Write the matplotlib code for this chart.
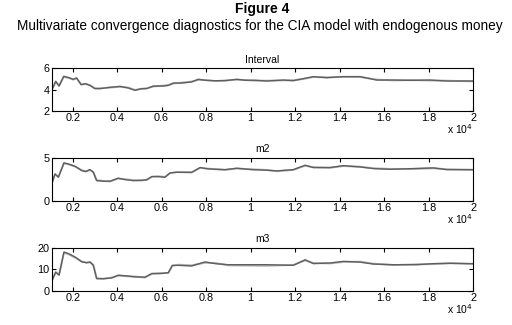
import matplotlib
matplotlib.use('Agg')
import matplotlib.pyplot as plt
import numpy as np

plt.rcParams['font.family'] = ['Liberation Sans', 'DejaVu Sans']
plt.rcParams['xtick.direction'] = 'in'
plt.rcParams['ytick.direction'] = 'in'

# iterations are in units of 10^4 on the axis
x_int = [0.106, 0.124, 0.139, 0.16, 0.184, 0.203, 0.218, 0.238, 0.259, 0.278,
         0.3, 0.323, 0.368, 0.413, 0.45, 0.48, 0.51, 0.533, 0.563, 0.608,
         0.63, 0.653, 0.69, 0.735, 0.765, 0.795, 0.84, 0.885, 0.938, 0.975,
         1.02, 1.073, 1.147, 1.192, 1.237, 1.282, 1.342, 1.417, 1.492, 1.567,
         1.642, 1.717, 1.807, 1.882, 2.0]
interval_a = [3.95, 4.78, 4.34, 5.25, 5.12, 4.97, 5.1, 4.47, 4.56, 4.4,
              4.1, 4.1, 4.22, 4.31, 4.16, 3.94, 4.1, 4.1, 4.34, 4.34,
              4.4, 4.62, 4.62, 4.72, 4.97, 4.88, 4.84, 4.84, 4.97, 4.88,
              4.88, 4.81, 4.9, 4.84, 5.03, 5.22, 5.12, 5.22, 5.22, 4.9,
              4.9, 4.87, 4.9, 4.81, 4.81]
interval_b = [3.98, 4.74, 4.38, 5.2, 5.08, 4.94, 5.06, 4.5, 4.52, 4.42,
              4.14, 4.13, 4.2, 4.27, 4.2, 3.98, 4.07, 4.14, 4.3, 4.38,
              4.44, 4.58, 4.66, 4.76, 4.92, 4.9, 4.8, 4.86, 4.93, 4.9,
              4.84, 4.84, 4.87, 4.88, 5.0, 5.18, 5.15, 5.19, 5.18, 4.94,
              4.87, 4.9, 4.86, 4.84, 4.78]

x_m2 = [0.106, 0.121, 0.136, 0.161, 0.181, 0.211, 0.241, 0.259, 0.278, 0.293,
        0.308, 0.338, 0.368, 0.405, 0.435, 0.473, 0.51, 0.533, 0.556, 0.585,
        0.615, 0.638, 0.668, 0.735, 0.773, 0.81, 0.885, 0.938, 1.005, 1.073,
        1.118, 1.192, 1.245, 1.282, 1.357, 1.417, 1.492, 1.552, 1.627, 1.732,
        1.822, 1.882, 2.0]
m2_a = [1.98, 3.14, 2.75, 4.42, 4.3, 4.03, 3.53, 3.41, 3.64, 3.33,
        2.36, 2.29, 2.29, 2.64, 2.48, 2.36, 2.4, 2.44, 2.83, 2.83,
        2.75, 3.26, 3.33, 3.33, 3.88, 3.72, 3.64, 3.8, 3.64, 3.57,
        3.49, 3.64, 4.15, 3.88, 3.88, 4.1, 3.95, 3.76, 3.68, 3.76,
        3.84, 3.64, 3.64]
m2_b = [2.02, 3.1, 2.8, 4.38, 4.26, 4.0, 3.56, 3.45, 3.6, 3.36,
        2.4, 2.32, 2.26, 2.6, 2.52, 2.4, 2.37, 2.48, 2.8, 2.86,
        2.79, 3.22, 3.36, 3.3, 3.84, 3.75, 3.6, 3.77, 3.68, 3.6,
        3.45, 3.6, 4.1, 3.92, 3.85, 4.06, 3.98, 3.8, 3.72, 3.72,
        3.8, 3.68, 3.6]

x_m3 = [0.106, 0.124, 0.139, 0.161, 0.181, 0.211, 0.241, 0.263, 0.278, 0.293,
        0.308, 0.338, 0.375, 0.405, 0.443, 0.48, 0.525, 0.556, 0.6, 0.63,
        0.648, 0.675, 0.735, 0.795, 0.84, 0.9, 0.975, 1.073, 1.192, 1.245,
        1.282, 1.357, 1.417, 1.492, 1.552, 1.642, 1.747, 1.822, 1.897, 2.0]
m3_a = [4.5, 8.8, 7.3, 18.1, 17.4, 15.8, 13.5, 13.2, 13.5, 11.9,
        5.7, 5.7, 6.0, 7.3, 7.0, 6.5, 6.4, 8.1, 8.1, 8.5,
        11.9, 11.9, 11.6, 13.5, 12.7, 12.2, 12.2, 12.2, 11.9, 14.5,
        12.7, 13.0, 13.75, 13.4, 12.5, 12.2, 12.2, 12.7, 12.8, 12.7]
m3_b = [4.7, 8.6, 7.6, 17.8, 17.1, 15.5, 13.8, 13.0, 13.3, 12.2,
        5.9, 5.6, 6.2, 7.1, 6.8, 6.7, 6.2, 7.9, 8.3, 8.3,
        11.6, 12.2, 11.9, 13.1, 13.0, 11.9, 11.8, 11.7, 12.1, 14.2,
        13.0, 12.8, 13.5, 13.6, 12.7, 12.0, 12.4, 12.5, 13.0, 12.5]

xticks = [0.2, 0.4, 0.6, 0.8, 1, 1.2, 1.4, 1.6, 1.8, 2]
xtick_labels = ['0.2', '0.4', '0.6', '0.8', '1', '1.2', '1.4', '1.6', '1.8', '2']

panels = [
    ('Interval', x_int, interval_a, interval_b, (2, 6), [2, 4, 6]),
    ('m2', x_m2, m2_a, m2_b, (0, 5), [0, 5]),
    ('m3', x_m3, m3_a, m3_b, (0, 20), [0, 10, 20]),
]

fig = plt.figure(figsize=(5.12, 3.25), dpi=100)
fig.text(0.513, 0.972, 'Figure 4', ha='center', va='center',
         fontsize=10, fontweight='bold')
fig.text(0.508, 0.921,
         'Multivariate convergence diagnostics for the CIA model with endogenous money',
         ha='center', va='center', fontsize=9.8)

bottoms = [0.658, 0.382, 0.105]
for (name, xs, ya, yb, ylim, yticks), b in zip(panels, bottoms):
    ax = fig.add_axes([0.101, b, 0.823, 0.132])
    xs = np.array(xs) * 1e4
    ax.plot(xs, yb, color='#b4b4b4', lw=1.4)
    ax.plot(xs, ya, color='#5e5e5e', lw=1.0)
    ax.set_xlim(1060, 20000)
    ax.set_ylim(*ylim)
    ax.set_xticks(np.array(xticks) * 1e4)
    ax.set_xticklabels(xtick_labels)
    ax.set_yticks(yticks)
    ax.tick_params(top=True, right=True, length=3, width=0.8,
                   labelsize=7.8, pad=1.5)
    for s in ax.spines.values():
        s.set_linewidth(0.8)
    ax.set_title(name, fontsize=7.5, pad=4)
    ax.text(1.0, -0.42, r'x 10$^{4}$', transform=ax.transAxes,
            ha='right', va='center', fontsize=7.5)

plt.savefig('out.png', dpi=100)
